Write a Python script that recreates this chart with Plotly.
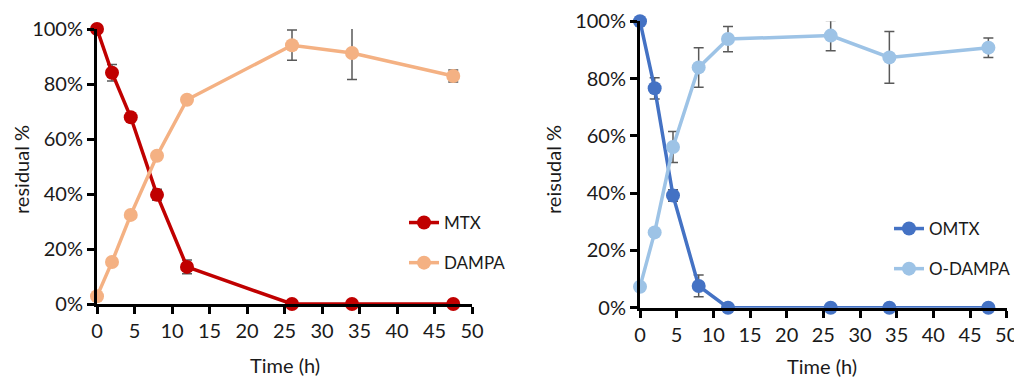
import plotly.graph_objects as go

# ---- data ----
time_left = [0, 2, 4.5, 8, 12, 26, 34, 47.5]
mtx = [100, 84.1, 67.9, 39.7, 13.5, 0, 0, 0]
mtx_err = [0, 3.0, 0, 2.0, 2.5, 0, 0, 0]
dampa = [2.8, 15.3, 32.4, 53.9, 74.3, 94.1, 91.3, 82.9]
dampa_err = [0, 0, 0, 0, 0, 5.5, 9.7, 2.2]

time_right = [0, 2, 4.5, 8, 12, 26, 34, 47.5]
omtx = [100, 76.6, 39.2, 7.6, 0, 0, 0, 0]
omtx_err = [0, 3.7, 2.0, 3.8, 0, 0, 0, 0]
odampa = [7.3, 26.3, 56.1, 83.9, 93.8, 95.0, 87.4, 90.8]
odampa_err = [0, 0, 5.4, 6.9, 4.4, 5.3, 9.0, 3.4]

x_ticks = [0, 5, 10, 15, 20, 25, 30, 35, 40, 45, 50]
y_ticks = [0, 20, 40, 60, 80, 100]
y_ticklabels = [f"{v}%" for v in y_ticks]

FONT = "Lato, Open Sans, sans-serif"
ERR_COLOR = "#595959"
TXT = "#1a1a1a"

fig = go.Figure()

def add(x, y, err, name, color, xa, ya, legend):
    fig.add_trace(go.Scatter(
        x=x, y=y, name=name, mode="lines+markers",
        line=dict(color=color, width=3.5),
        marker=dict(color=color, size=14),
        error_y=dict(type="data", array=err, visible=True,
                     color=ERR_COLOR, thickness=1.5, width=5),
        xaxis=xa, yaxis=ya, legend=legend, legendgroup=name,
        cliponaxis=False,
    ))

add(time_left, mtx, mtx_err, "MTX", "#C00000", "x", "y", "legend")
add(time_left, dampa, dampa_err, "DAMPA", "#F4B183", "x", "y", "legend")
add(time_right, omtx, omtx_err, "OMTX", "#4472C4", "x2", "y2", "legend2")
add(time_right, odampa, odampa_err, "O-DAMPA", "#9DC3E6", "x2", "y2", "legend2")

H = 378.0
W = 1014.0
xaxis_common = dict(range=[0, 50], tickvals=x_ticks, showline=True, linecolor="black",
                    linewidth=3, ticks="outside", ticklen=7, tickwidth=2.5, tickcolor="black",
                    showgrid=False, zeroline=False, automargin=False,
                    ticklabeloverflow="allow",
                    tickfont=dict(size=20, color=TXT))
yaxis_common = dict(range=[0, 100], tickvals=y_ticks, ticktext=y_ticklabels, showline=True,
                    linecolor="black", linewidth=3, ticks="outside", ticklen=7, tickwidth=2.5,
                    tickcolor="black", showgrid=False, zeroline=False, automargin=False,
                    tickfont=dict(size=20, color=TXT))

legend_common = dict(font=dict(size=17, color=TXT), bgcolor="rgba(0,0,0,0)",
                     traceorder="grouped", tracegroupgap=15, xanchor="left", yanchor="middle",
                     itemwidth=30)

def title(text, x, y, angle=0):
    return dict(text=text, x=x / W, y=1 - y / H, xref="paper", yref="paper",
                xanchor="center", yanchor="middle", textangle=angle, showarrow=False,
                font=dict(size=20, color=TXT))

fig.update_layout(
    template="none",
    width=1014, height=378,
    margin=dict(l=0, r=0, t=0, b=0, autoexpand=False),
    paper_bgcolor="white", plot_bgcolor="white",
    font=dict(family=FONT, color=TXT),
    showlegend=True,
    xaxis=dict(domain=[97 / W, 472 / W], anchor="y", **xaxis_common),
    yaxis=dict(domain=[1 - 304 / H, 1 - 29 / H], anchor="x", **yaxis_common),
    xaxis2=dict(domain=[640 / W, 1006.7 / W], anchor="y2", **xaxis_common),
    yaxis2=dict(domain=[1 - 307.7 / H, 1 - 21.3 / H], anchor="x2", **yaxis_common),
    legend=dict(x=404 / W, y=1 - 243 / H, **legend_common),
    legend2=dict(x=889 / W, y=1 - 249 / H, **legend_common),
    annotations=[
        title("residual %", 21, 170, -90),
        title("Time (h)", 285, 365),
        title("reisudal %", 553, 170, -90),
        title("Time (h)", 822, 366),
    ],
)

fig.write_html("out.html", config={"displayModeBar": False},
               post_script="document.body.style.margin='0';document.body.style.overflow='hidden';")
